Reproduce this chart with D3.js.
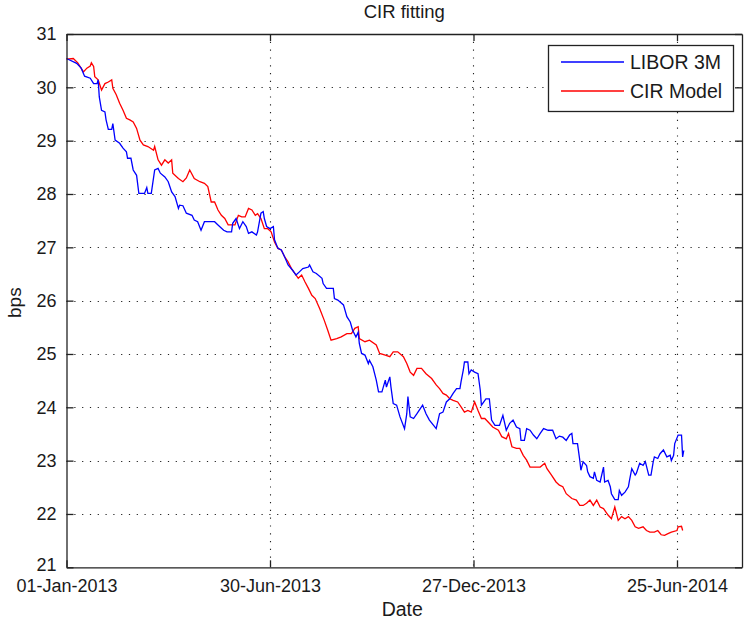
<!DOCTYPE html>
<html><head><meta charset="utf-8">
<script src="https://cdn.jsdelivr.net/npm/d3@7/dist/d3.min.js"></script>
<style>
html,body{margin:0;padding:0;background:#fff;}
text{font-family:"Liberation Sans",Arial,Helvetica,sans-serif;fill:#1a1a1a;}
</style></head>
<body>
<svg id="chart" width="744" height="622"></svg>
<script>
// ---- data (days since 01-Jan-2013, value in bps) ----
const startDate = new Date(2013, 0, 1);
const xTickDays = [0, 180, 360, 540];
const yTicks = [21, 22, 23, 24, 25, 26, 27, 28, 29, 30, 31];
const seriesNames = ["LIBOR 3M", "CIR Model"];
const seriesColors = ["#0000ff", "#ff0000"];

const liborDays = [0,9,13,16,21,24,27,28,29,31,34,35,37,40,41,43,47,50,53,54,57,59,62,64,69,71,72,75,78,81,83,87,90,93,96,99,100,103,106,111,113,116,119,122,127,131,134,139,142,146,147,150,153,156,159,161,164,168,169,172,174,175,177,180,183,184,187,190,193,196,200,203,206,209,214,215,218,221,226,227,230,236,237,240,245,248,251,253,256,258,259,261,264,267,268,271,274,276,279,282,283,286,287,289,292,295,299,301,302,304,307,310,315,318,321,327,330,333,336,339,342,345,348,349,351,352,355,356,358,361,364,366,367,368,371,374,376,379,383,386,389,392,395,398,401,402,405,407,410,413,416,419,422,426,430,433,436,439,442,445,447,448,452,454,455,457,460,461,463,466,467,469,472,475,476,479,481,482,485,488,489,491,494,497,498,500,503,504,507,510,512,515,517,519,520,523,525,528,531,534,535,537,538,541,544,545,546];
const liborValues = [30.54,30.45,30.36,30.21,30.17,30.07,30.07,30.14,29.82,29.57,29.54,29.39,29.21,29.21,29.32,29.01,28.95,28.86,28.79,28.67,28.67,28.45,28.35,28.01,28.01,28.12,28.01,28.01,28.45,28.48,28.39,28.32,28.23,28.04,27.95,27.73,27.79,27.78,27.64,27.6,27.51,27.48,27.32,27.48,27.48,27.48,27.42,27.32,27.29,27.29,27.45,27.54,27.35,27.48,27.39,27.26,27.29,27.23,27.29,27.64,27.67,27.54,27.39,27.35,27.39,27.14,26.98,26.95,26.82,26.67,26.57,26.48,26.54,26.6,26.63,26.67,26.54,26.51,26.42,26.32,26.23,26.23,26.04,26.01,25.92,25.7,25.6,25.45,25.32,25.41,25.2,25.01,24.98,24.82,24.88,24.76,24.51,24.29,24.29,24.51,24.38,24.57,24.38,24.07,24.04,23.82,23.6,23.88,24.2,23.82,23.79,23.88,24.04,23.88,23.76,23.6,23.88,23.91,24.1,24.16,24.26,24.35,24.35,24.48,24.7,24.85,24.85,24.63,24.7,24.66,24.63,24.32,24.04,24.07,24.16,24.16,23.76,23.66,23.66,23.85,23.57,23.7,23.76,23.63,23.6,23.38,23.38,23.6,23.57,23.48,23.41,23.51,23.6,23.57,23.57,23.41,23.46,23.44,23.38,23.48,23.51,23.32,23.32,23.01,22.82,22.98,22.91,22.79,22.7,22.67,22.79,22.63,22.6,22.88,22.6,22.63,22.51,22.38,22.27,22.27,22.44,22.35,22.41,22.51,22.63,22.85,22.73,22.76,22.95,22.91,22.98,22.73,22.73,22.98,23.07,23.04,23.13,23.2,23.07,23.1,23.0,23.1,23.32,23.48,23.48,23.07,23.19];

const cirDays = [0,6,10,15,18,21,22,24,25,28,31,34,37,40,41,44,47,50,53,56,59,62,65,68,72,77,78,81,84,87,90,93,94,99,103,106,109,113,118,122,125,128,131,134,137,140,143,146,149,152,155,158,161,164,167,169,172,175,178,181,184,187,190,193,196,199,202,205,208,211,214,217,220,224,228,231,234,239,243,248,252,255,258,259,264,268,274,277,282,286,289,293,298,301,304,307,310,314,318,323,327,330,333,336,339,342,346,349,352,355,358,361,364,367,370,374,377,382,385,389,391,394,398,401,404,407,410,414,419,423,425,429,433,436,439,442,447,451,454,457,460,463,466,469,472,475,479,482,485,488,491,494,497,500,503,506,510,513,516,520,523,526,529,532,535,540,541,544,545];
const cirValues = [30.53,30.54,30.46,30.29,30.36,30.4,30.46,30.39,30.2,30.14,29.95,30.07,30.1,30.14,29.98,29.86,29.7,29.57,29.42,29.39,29.35,29.23,29.01,28.92,28.89,28.82,28.89,28.64,28.54,28.64,28.58,28.64,28.39,28.29,28.23,28.3,28.45,28.29,28.23,28.2,28.14,27.85,27.85,27.7,27.6,27.54,27.42,27.42,27.42,27.6,27.57,27.57,27.73,27.7,27.6,27.63,27.54,27.35,27.35,27.29,27.1,26.98,26.95,26.82,26.73,26.6,26.51,26.42,26.48,26.35,26.23,26.1,26.04,25.85,25.63,25.45,25.26,25.29,25.32,25.38,25.38,25.48,25.51,25.29,25.23,25.26,25.17,25.01,24.98,24.95,25.04,25.04,24.95,24.82,24.66,24.6,24.73,24.73,24.63,24.54,24.42,24.35,24.26,24.23,24.16,24.13,24.1,24.01,23.91,23.94,23.91,24.1,23.94,23.79,23.79,23.7,23.63,23.57,23.45,23.41,23.51,23.26,23.23,23.23,23.1,23.01,22.88,22.88,22.88,22.95,22.85,22.73,22.6,22.54,22.51,22.38,22.29,22.26,22.16,22.16,22.2,22.26,22.16,22.26,22.13,22.1,21.98,21.91,22.13,21.88,21.95,21.91,21.95,21.88,21.76,21.73,21.76,21.69,21.66,21.66,21.69,21.61,21.6,21.63,21.66,21.69,21.76,21.77,21.69];

// ---- layout ----
const svg = d3.select("#chart");
const L = 66.5, R = 742, T = 34, B = 567.3;
const endDate = d3.timeHour.offset(startDate, Math.round(597.5 * 24));
const x = d3.scaleTime().domain([startDate, endDate]).range([L, R]);
const y = d3.scaleLinear().domain([21, 31]).range([B, T]);
const day = d => d3.timeDay.offset(startDate, d);
const fmt = d3.timeFormat("%d-%b-%Y");
const xTicks = xTickDays.map(day);
const FS = 18;

svg.append("rect").attr("x",0).attr("y",0).attr("width",744).attr("height",622).attr("fill","#fff");

// grid
const grid = svg.append("g").attr("stroke","#222").attr("stroke-width",1.1).attr("stroke-dasharray","1.2,6.6");
grid.selectAll("line.gx").data(xTicks.slice(1)).join("line")
  .attr("x1",d=>Math.round(x(d))+0.5).attr("x2",d=>Math.round(x(d))+0.5).attr("y1",T).attr("y2",B);
grid.selectAll("line.gy").data(yTicks.slice(1,-1)).join("line")
  .attr("y1",d=>Math.round(y(d))+0.5).attr("y2",d=>Math.round(y(d))+0.5).attr("x1",L).attr("x2",R);

// lines
const mk = (days, vals) => days.map((d,i)=>({date:day(d), v:vals[i]}));
const line = d3.line().x(d=>x(d.date)).y(d=>y(d.v));
const series = [mk(liborDays, liborValues), mk(cirDays, cirValues)];
svg.append("path").datum(series[1]).attr("d",line).attr("fill","none").attr("stroke",seriesColors[1]).attr("stroke-width",1.3);
svg.append("path").datum(series[0]).attr("d",line).attr("fill","none").attr("stroke",seriesColors[0]).attr("stroke-width",1.3);

// axes (box with inward ticks)
const tl = 7;
const axB = svg.append("g").attr("transform",`translate(0,${B})`)
  .call(d3.axisBottom(x).tickValues(xTicks).tickFormat(fmt).tickSizeInner(-tl).tickSizeOuter(0).tickPadding(12));
const axT = svg.append("g").attr("transform",`translate(0,${T})`)
  .call(d3.axisTop(x).tickValues(xTicks).tickFormat("").tickSizeInner(-tl).tickSizeOuter(0));
const axL = svg.append("g").attr("transform",`translate(${L},0)`)
  .call(d3.axisLeft(y).tickValues(yTicks).tickFormat(d3.format("d")).tickSizeInner(-tl).tickSizeOuter(0).tickPadding(10));
const axR = svg.append("g").attr("transform",`translate(${R},0)`)
  .call(d3.axisRight(y).tickValues(yTicks).tickFormat("").tickSizeInner(-tl).tickSizeOuter(0));
[axB,axT,axL,axR].forEach(a=>{
  a.selectAll("path.domain").attr("stroke","#222").attr("stroke-width",1.3);
  a.selectAll(".tick line").attr("stroke","#222").attr("stroke-width",1.3);
  a.selectAll("text").attr("font-size",FS).attr("font-family","Liberation Sans, Arial, sans-serif").attr("fill","#1a1a1a");
});
// lift the bottom y label slightly so it clears the first date label
axL.selectAll(".tick text").filter(d => d === yTicks[0]).attr("y", -3);

// titles
svg.append("text").attr("x",(L+R)/2).attr("y",17.5).attr("text-anchor","middle").attr("font-size",18.5).text("CIR fitting");
svg.append("text").attr("x",(L+R)/2 - 2).attr("y",616).attr("text-anchor","middle").attr("font-size",19.5).text("Date");
svg.append("text").attr("transform",`translate(20.5,${(T+B)/2 + 2}) rotate(-90)`).attr("text-anchor","middle").attr("font-size",19).text("bps");

// legend
const lg = svg.append("g");
lg.append("rect").attr("x",548.5).attr("y",45.5).attr("width",185).attr("height",66).attr("fill","#fff").attr("stroke","#222").attr("stroke-width",1.3);
seriesNames.forEach((n,i)=>{
  const yy = 62 + i*29;
  lg.append("line").attr("x1",561).attr("x2",624).attr("y1",yy).attr("y2",yy).attr("stroke",seriesColors[i]).attr("stroke-width",1.3);
  lg.append("text").attr("x",630).attr("y",yy+7).attr("font-size",19.5).text(n);
});
</script>
</body></html>
